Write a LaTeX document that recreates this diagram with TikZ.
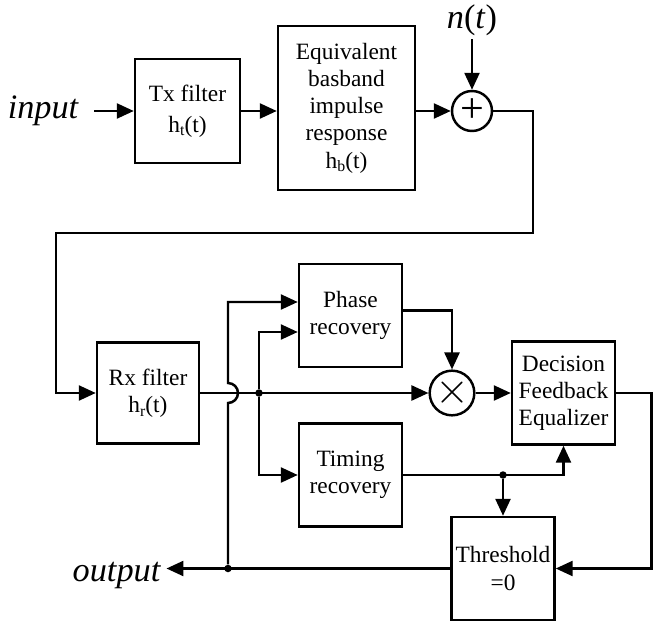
\documentclass[tikz,border=0pt]{standalone}
\usepackage{fontspec}
\setmainfont{Liberation Serif}
\usetikzlibrary{arrows.meta,positioning}
\tikzset{
  chblock/.style={
    draw,
    line width=1.4pt,
    align=center,
    inner sep=1pt,
    minimum width=20.6mm,
    minimum height=20.6mm,
    font=\fontsize{13.3}{15.5}\selectfont
  },
  chsum/.style={draw, circle, line width=1.4pt, minimum size=8mm, inner sep=0pt, font=\fontsize{24}{24}\selectfont},
  chlabel/.style={font=\fontsize{19.5}{22}\selectfont\itshape},
  chjoin/.style={circle, fill, inner sep=0pt, minimum size=1.5mm},
  chflow/.style={-{Triangle[length=3.4mm,width=3mm]}, line width=1.4pt}
}
\newcommand{\hsub}[1]{h\raisebox{-0.35ex}{\fontsize{9}{9}\selectfont #1}(t)}

\begin{document}
\begin{tikzpicture}
  \useasboundingbox (0,0) rectangle (13.08,-12.48);
  \node[chlabel] (inp) at (0.86,-2.22) {input};
  \node[chblock, minimum width=21mm, minimum height=20.8mm] (tx) at (3.75,-2.22) {Tx filter\\[2pt]\hsub{t}};
  \node[chblock, minimum width=27.4mm, minimum height=32.8mm] (eq) at (6.93,-2.16) {Equivalent\\basband\\impulse\\response\\\hsub{b}};
  \node[chsum] (add) at (9.44,-2.22) {+};
  \node[font=\fontsize{19.5}{22}\selectfont, inner sep=2pt] (noise) at (9.44,-0.4) {\textit{n}(\textit{t})};
  \coordinate (c1) at (10.66,-4.66);
  \coordinate (c2) at (1.12,-4.66);
  \node[chblock, minimum width=20.4mm, minimum height=20.2mm] (rx) at (2.96,-7.86) {Rx filter\\\hsub{r}};
  \node[chblock] (ph) at (7.01,-6.31) {Phase\\recovery};
  \node[chblock] (tm) at (7.01,-9.5) {Timing\\recovery};
  \node[chsum] (mul) at (9.04,-7.86) {$\times$};
  \node[chblock] (dfe) at (11.27,-7.86) {Decision\\Feedback\\Equalizer};
  \node[chblock] (th) at (10.06,-11.37) {Threshold\\=0};
  \node[chlabel] (out) at (2.33,-11.5) {output};
  \coordinate (edge) at (13.03,-7.86);
  \node[chjoin] (ta) at (4.56,-11.37) {};
  \node[chjoin] (sp) at (5.18,-7.86) {};
  \node[chjoin] (tb) at (10.06,-9.5) {};
  \coordinate (jmp) at (ta |- rx.east);
  \coordinate (jtop) at (ta |- ph.west);
  \draw[chflow, shorten <=2mm] (inp.east) -- (inp.east -| tx.west);
  \draw[chflow] (tx.east) -- (tx.east -| eq.west);
  \draw[chflow] (eq.east |- tx.east) -- (add.west);
  \draw[chflow] (noise.south) -- (add.north);
  \draw[chflow] (add.east) -| (c1) -- (c2) |- (rx.west);
  \draw[chflow] (rx.east) -- (mul.west);
  \draw[chflow] (mul.east) -- (dfe.west);
  \draw[chflow] ([yshift=1mm]ph.east) -| (mul.north);
  \draw[chflow] (sp) |- ([yshift=-3.3mm]ph.west);
  \draw[chflow] (sp) |- (tm.west);
  \draw[chflow] (tm.east) -| (dfe.south);
  \draw[chflow] (tb) -- (th.north);
  \draw[chflow] (dfe.east) -- (edge) |- (th.east);
  \draw[chflow] (th.west) -- (th.west -| out.east);
  \draw[chflow] (ta) -- ([yshift=-2mm]jmp) arc[start angle=-90, end angle=90, radius=2mm] -- ([yshift=2.7mm]jtop) -- ([yshift=2.7mm]ph.west);
\end{tikzpicture}
\end{document}
